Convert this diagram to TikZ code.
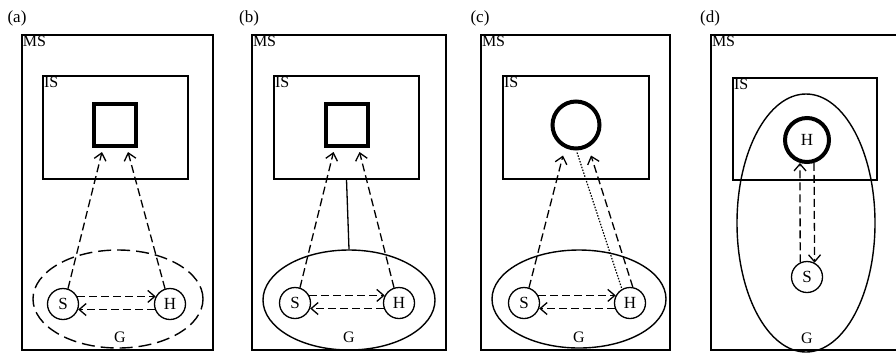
\documentclass[tikz,border=0pt]{standalone}
\usepackage{fontspec}
\setmainfont{Liberation Serif}
\usetikzlibrary{arrows.meta,shapes.geometric,calc}
\tikzset{
  frame/.style={draw, rectangle, line width=1.4pt, inner sep=0pt},
  thickbox/.style={draw, rectangle, line width=4pt, inner sep=0pt, minimum size=42pt},
  thickring/.style={draw, circle, line width=4pt, inner sep=0pt, minimum size=47pt, font=\fontsize{17}{17}\selectfont},
  agent/.style={draw, circle, line width=1.3pt, inner sep=0pt, minimum size=31pt, font=\fontsize{17}{17}\selectfont},
  group/.style={draw, ellipse, line width=1.4pt, inner sep=0pt},
  tag/.style={inner sep=1.5pt, font=\fontsize{16}{16}\selectfont},
  panel/.style={font=\fontsize{17}{17}\selectfont},
  link/.style={line width=1.3pt, dash pattern=on 8pt off 4pt, -{Straight Barb[length=7pt,width=12pt,line width=1.3pt]}},
  tie/.style={line width=1.3pt},
  trace/.style={line width=1.2pt, dash pattern=on 1.5pt off 1.5pt}
}
\begin{document}
\begin{tikzpicture}[x=1pt,y=-1pt]
\useasboundingbox (0,0) rectangle (896,360);
\clip (0,0) rectangle (896,360);

% ---------- (a) ----------
\node[panel] (pa) at (17,18) {(a)};
\node[frame, minimum width=191pt, minimum height=315pt] (msa) at (117.5,192.5) {};
\node[tag, anchor=north west] (msla) at (msa.north west) {MS};
\node[frame, minimum width=145pt, minimum height=103pt] (isa) at (115.5,127.5) {};
\node[tag, anchor=north west] (isla) at (isa.north west) {IS};
\node[thickbox] (sqa) at (115,125) {};
\node[group, dash pattern=on 13pt off 6pt, minimum width=170pt, minimum height=98pt] (ga) at (118,299) {};
\node[tag] (gla) at (120,337) {G};
\node[agent] (sa) at (63,304) {S};
\node[agent] (ha) at (170,304) {H};
\draw[link] (sa.72) -- ($(sqa.south)+(-13,4)$);
\draw[link] (ha.108) -- ($(sqa.south)+(13,4)$);
\draw[link] (sa.28) -- (ha.152);
\draw[link] (ha.-160) -- (sa.-20);

% ---------- (b) ----------
\node[panel] (pb) at (249,18) {(b)};
\node[frame, minimum width=194pt, minimum height=315pt] (msb) at (349,192.5) {};
\node[tag, anchor=north west] (mslb) at (msb.north west) {MS};
\node[frame, minimum width=145pt, minimum height=103pt] (isb) at (346.5,127.5) {};
\node[tag, anchor=north west] (islb) at (isb.north west) {IS};
\node[thickbox] (sqb) at (346.5,125) {};
\node[group, minimum width=172pt, minimum height=100pt] (gb) at (349,300) {};
\node[tag] (glb) at (349,337) {G};
\node[agent] (sb) at (295,303) {S};
\node[agent] (hb) at (399,303) {H};
\draw[tie] (isb.south) -- (gb.north);
\draw[link] (sb.72) -- ($(sqb.south)+(-13,4)$);
\draw[link] (hb.108) -- ($(sqb.south)+(13,4)$);
\draw[link] (sb.28) -- (hb.152);
\draw[link] (hb.-160) -- (sb.-20);

% ---------- (c) ----------
\node[panel] (pc) at (480,18) {(c)};
\node[frame, minimum width=189pt, minimum height=315pt] (msc) at (575.5,192.5) {};
\node[tag, anchor=north west] (mslc) at (msc.north west) {MS};
\node[frame, minimum width=146pt, minimum height=103pt] (isc) at (576,127.5) {};
\node[tag, anchor=north west] (islc) at (isc.north west) {IS};
\node[thickring] (rc) at (576,125) {};
\node[group, minimum width=174pt, minimum height=98pt] (gc) at (579,299) {};
\node[tag] (glc) at (579,337) {G};
\node[agent] (sc) at (524,303) {S};
\node[agent] (hc) at (630,303) {H};
\draw[link] (sc.72) -- ($(rc.south)+(-13,5)$);
\draw[link] (hc.80) -- ($(rc.south)+(15,5)$);
\draw[trace] ($(rc.south)+(1,2)$) -- (hc.120);
\draw[link] (sc.28) -- (hc.152);
\draw[link] (hc.-160) -- (sc.-20);

% ---------- (d) ----------
\node[panel] (pd) at (710,18) {(d)};
\node[frame, minimum width=200pt, minimum height=315pt] (msd) at (811,192.5) {};
\node[tag, anchor=north west] (msld) at (msd.north west) {MS};
\node[frame, minimum width=144pt, minimum height=102pt] (isd) at (805,129) {};
\node[tag, anchor=north west] (isld) at (isd.north west) {IS};
\node[group, minimum width=138pt, minimum height=258pt] (gd) at (806,223) {};
\node[tag] (gld) at (807,338) {G};
\node[thickring, minimum size=44pt] (hd) at (807,140) {H};
\node[agent] (sd) at (807,277) {S};
\draw[link] (sd.115) -- (hd.-107);
\draw[link] (hd.-73) -- (sd.62);
\end{tikzpicture}
\end{document}
